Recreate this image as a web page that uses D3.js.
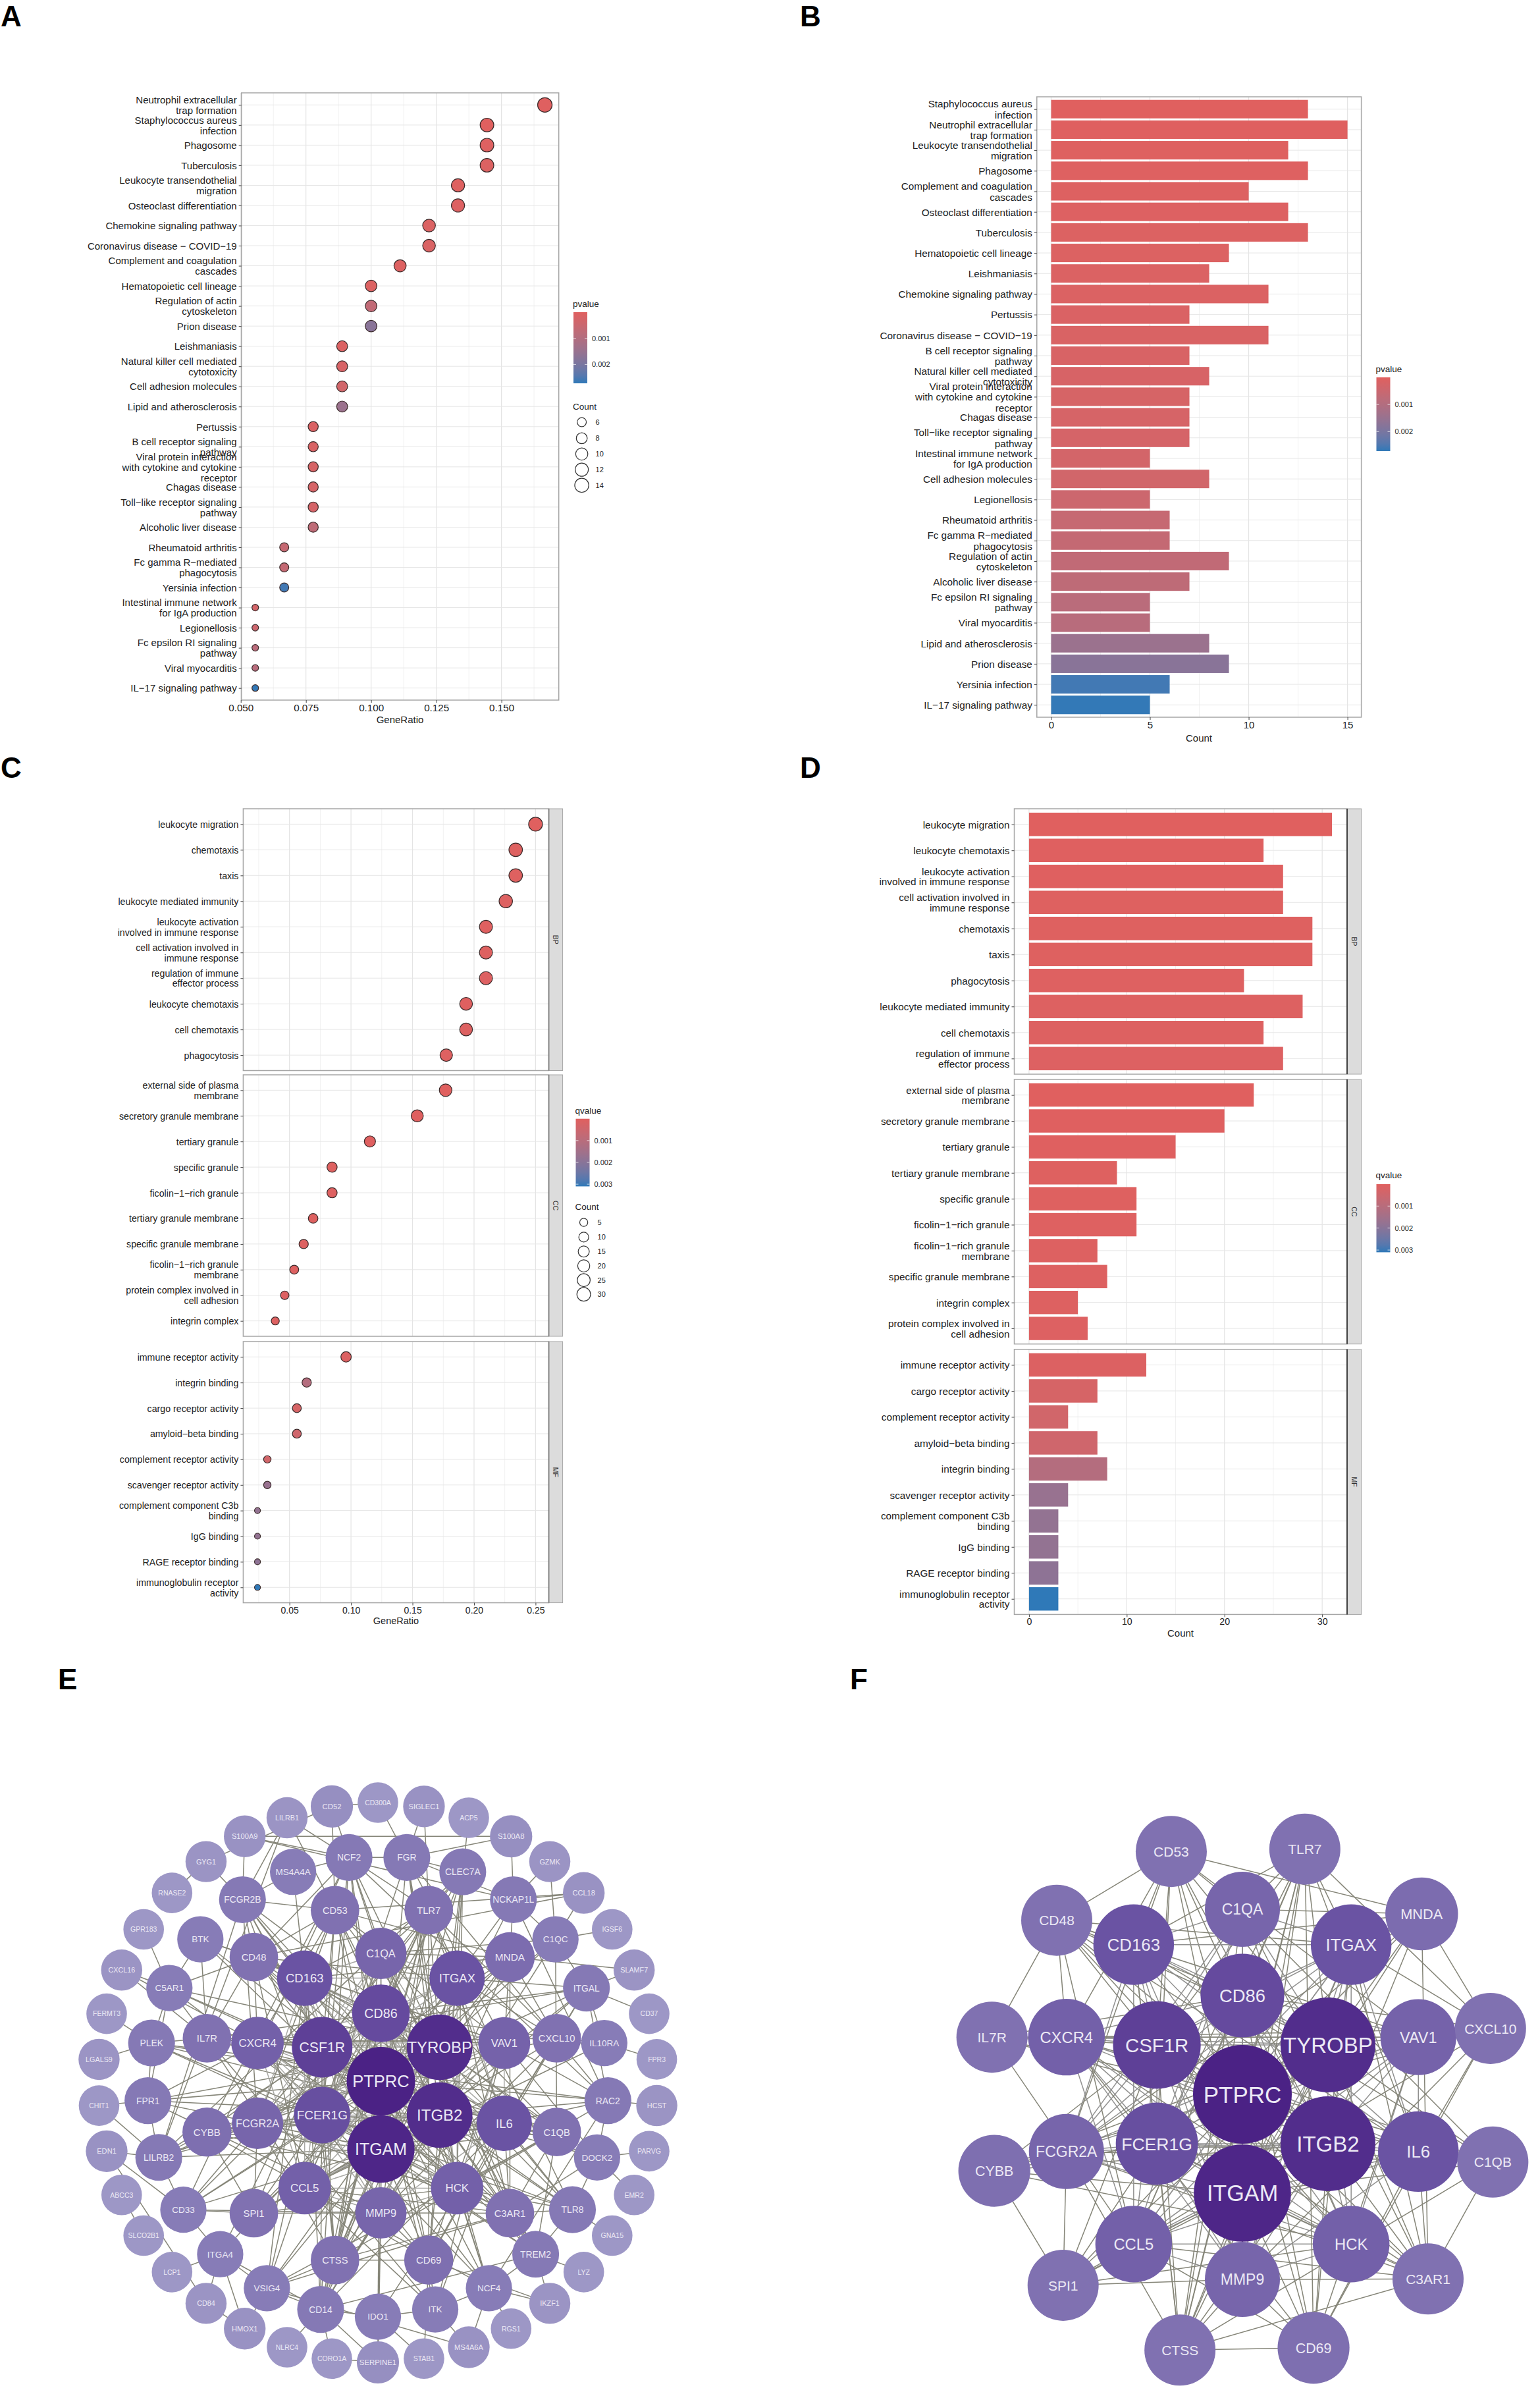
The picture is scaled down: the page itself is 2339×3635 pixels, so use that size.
<!DOCTYPE html>
<html>
<head>
<meta charset="utf-8">
<script src="https://cdn.jsdelivr.net/npm/d3@7/dist/d3.min.js"></script>
<style>
body { margin: 0; background: #fff; }
text { font-family: "Liberation Sans", Arial, sans-serif; }
</style>
</head>
<body>
<svg id="fig" width="2339" height="3635"></svg>
<script>
// KEGG terms, in the order of the bar panel (B)
const keggTerms = ["Staphylococcus aureus\ninfection", "Neutrophil extracellular\ntrap formation", "Leukocyte transendothelial\nmigration", "Phagosome", "Complement and coagulation\ncascades", "Osteoclast differentiation", "Tuberculosis", "Hematopoietic cell lineage", "Leishmaniasis", "Chemokine signaling pathway", "Pertussis", "Coronavirus disease \u2212 COVID\u221219", "B cell receptor signaling\npathway", "Natural killer cell mediated\ncytotoxicity", "Viral protein interaction\nwith cytokine and cytokine\nreceptor", "Chagas disease", "Toll\u2212like receptor signaling\npathway", "Intestinal immune network\nfor IgA production", "Cell adhesion molecules", "Legionellosis", "Rheumatoid arthritis", "Fc gamma R\u2212mediated\nphagocytosis", "Regulation of actin\ncytoskeleton", "Alcoholic liver disease", "Fc epsilon RI signaling\npathway", "Viral myocarditis", "Lipid and atherosclerosis", "Prion disease", "Yersinia infection", "IL\u221217 signaling pathway"];
const keggCount = [13, 15, 12, 13, 10, 12, 13, 9, 8, 11, 7, 11, 7, 8, 7, 7, 7, 5, 8, 5, 6, 6, 9, 7, 5, 5, 8, 9, 6, 5];
const keggP = [.00001, .00002, .00004, .00005, .00007, .00008, .00009, .0001, .00011, .00012, .00014, .00015, .00018, .0002, .00022, .00024, .00026, .0003, .00035, .00045, .00058, .00062, .0007, .00075, .00085, .00088, .00145, .00175, .0026, .0027];
// same terms, in the order of the dot panel (A)
const keggDotOrder = ["Neutrophil extracellular\ntrap formation", "Staphylococcus aureus\ninfection", "Phagosome", "Tuberculosis", "Leukocyte transendothelial\nmigration", "Osteoclast differentiation", "Chemokine signaling pathway", "Coronavirus disease \u2212 COVID\u221219", "Complement and coagulation\ncascades", "Hematopoietic cell lineage", "Regulation of actin\ncytoskeleton", "Prion disease", "Leishmaniasis", "Natural killer cell mediated\ncytotoxicity", "Cell adhesion molecules", "Lipid and atherosclerosis", "Pertussis", "B cell receptor signaling\npathway", "Viral protein interaction\nwith cytokine and cytokine\nreceptor", "Chagas disease", "Toll\u2212like receptor signaling\npathway", "Alcoholic liver disease", "Rheumatoid arthritis", "Fc gamma R\u2212mediated\nphagocytosis", "Yersinia infection", "Intestinal immune network\nfor IgA production", "Legionellosis", "Fc epsilon RI signaling\npathway", "Viral myocarditis", "IL\u221217 signaling pathway"];
const keggTotal = 90;

// GO terms, in bar panel (D) order
const goBPTerms = ["leukocyte migration", "leukocyte chemotaxis", "leukocyte activation\ninvolved in immune response", "cell activation involved in\nimmune response", "chemotaxis", "taxis", "phagocytosis", "leukocyte mediated immunity", "cell chemotaxis", "regulation of immune\neffector process"];
const goBPCount = [31, 24, 26, 26, 29, 29, 22, 28, 24, 26];
const goBPQ = [.00001, .00002, .00003, .00004, .00005, .00005, .00006, .00007, .00008, .00009];
const goBPDotOrder = ["leukocyte migration", "chemotaxis", "taxis", "leukocyte mediated immunity", "leukocyte activation\ninvolved in immune response", "cell activation involved in\nimmune response", "regulation of immune\neffector process", "leukocyte chemotaxis", "cell chemotaxis", "phagocytosis"];
const goBPTotal = 124;

const goCCTerms = ["external side of plasma\nmembrane", "secretory granule membrane", "tertiary granule", "tertiary granule membrane", "specific granule", "ficolin\u22121\u2212rich granule", "ficolin\u22121\u2212rich granule\nmembrane", "specific granule membrane", "integrin complex", "protein complex involved in\ncell adhesion"];
const goCCCount = [23, 20, 15, 9, 11, 11, 7, 8, 5, 6];
const goCCQ = [.00001, .00002, .00003, .00004, .00005, .00006, .00007, .00007, .00008, .00009];
const goCCDotOrder = ["external side of plasma\nmembrane", "secretory granule membrane", "tertiary granule", "specific granule", "ficolin\u22121\u2212rich granule", "tertiary granule membrane", "specific granule membrane", "ficolin\u22121\u2212rich granule\nmembrane", "protein complex involved in\ncell adhesion", "integrin complex"];
const goCCTotal = 130;

const goMFTerms = ["immune receptor activity", "cargo receptor activity", "complement receptor activity", "amyloid\u2212beta binding", "integrin binding", "scavenger receptor activity", "complement component C3b\nbinding", "IgG binding", "RAGE receptor binding", "immunoglobulin receptor\nactivity"];
const goMFCount = [12, 7, 4, 7, 8, 4, 3, 3, 3, 3];
const goMFQ = [.0001, .00025, .0004, .00045, .0011, .0017, .0018, .0018, .0019, .0031];
const goMFDotOrder = ["immune receptor activity", "integrin binding", "cargo receptor activity", "amyloid\u2212beta binding", "complement receptor activity", "scavenger receptor activity", "complement component C3b\nbinding", "IgG binding", "RAGE receptor binding", "immunoglobulin receptor\nactivity"];
const goMFTotal = 125;

// network genes per ring, clockwise
const ringHub = ["PTPRC"];
const ringCore = ["CD86", "TYROBP", "ITGB2", "ITGAM", "FCER1G", "CSF1R"];
const ringMid = ["C1QA", "ITGAX", "VAV1", "IL6", "HCK", "MMP9", "CCL5", "FCGR2A", "CXCR4", "CD163"];
const ringThird = ["CD53", "TLR7", "MNDA", "CXCL10", "C1QB", "C3AR1", "CD69", "CTSS", "SPI1", "CYBB", "IL7R", "CD48"];
const ringFourth = ["NCF2", "FGR", "CLEC7A", "NCKAP1L", "C1QC", "ITGAL", "IL10RA", "RAC2", "DOCK2", "TLR8", "TREM2", "NCF4", "ITK", "IDO1", "CD14", "VSIG4", "ITGA4", "CD33", "LILRB2", "FPR1", "PLEK", "C5AR1", "BTK", "FCGR2B", "MS4A4A"];
const ringOuter = ["CD300A", "SIGLEC1", "ACP5", "S100A8", "GZMK", "CCL18", "IGSF6", "SLAMF7", "CD37", "FPR3", "HCST", "PARVG", "EMR2", "GNA15", "LYZ", "IKZF1", "RGS1", "MS4A6A", "STAB1", "SERPINE1", "CORO1A", "NLRC4", "HMOX1", "CD84", "LCP1", "SLCO2B1", "ABCC3", "EDN1", "CHIT1", "LGALS9", "FERMT3", "CXCL16", "GPR183", "RNASE2", "GYG1", "S100A9", "LILRB1", "CD52"];

const degHub = [50];
const degCore = [31, 45, 45, 48, 29, 36];
const degMid = [20, 27, 21, 27, 22, 20, 22, 20, 22, 27];
const degThird = [15, 15, 17, 15, 15, 15, 16, 15, 15, 16, 15, 15];
const degFourth = [12, 12, 12, 12, 11, 12, 11, 12, 11, 12, 12, 11, 11, 11, 12, 11, 11, 11, 12, 12, 12, 11, 11, 12, 11];
const degOuter = [1, 3, 1, 4, 2, 3, 1, 2, 1, 1, 2, 1, 1, 1, 1, 2, 1, 3, 1, 4, 1, 1, 3, 2, 1, 1, 1, 3, 1, 2, 1, 2, 1, 1, 2, 3, 2, 4];

// who is linked to whom
const netLinks = [
  ["PTPRC", "CD86 TYROBP ITGB2 ITGAM FCER1G CSF1R C1QA ITGAX VAV1 IL6 HCK MMP9 CCL5 FCGR2A CXCR4 CD163 CD53 TLR7 MNDA CXCL10 C3AR1 CD69 CTSS SPI1 CYBB IL7R CD48 NCF2 FCGR2B CLEC7A NCKAP1L ITGAL RAC2 DOCK2 TLR8 CD33 LILRB2 FPR1 PLEK C5AR1 BTK ITGA4 ITK CD14 NCF4 TREM2 C1QC"],
  ["ITGAM", "TYROBP ITGB2 FCER1G CSF1R CD86 ITGAX VAV1 IL6 HCK MMP9 CCL5 FCGR2A CXCR4 CD163 C1QA MNDA C3AR1 CD69 CTSS SPI1 CYBB TLR7 CD53 C1QB NCF2 FCGR2B CLEC7A FGR ITGAL RAC2 TLR8 CD33 LILRB2 FPR1 PLEK C5AR1 VSIG4 CD14 NCF4 TREM2"],
  ["TYROBP", "ITGB2 FCER1G CSF1R CD86 C1QA ITGAX VAV1 HCK MMP9 CCL5 FCGR2A CXCR4 CD163 C1QB C3AR1 CD53 TLR7 MNDA CTSS SPI1 CYBB CD48 CLEC7A FCGR2B FGR NCF2 NCKAP1L C1QC DOCK2 TLR8 TREM2 LILRB2 FPR1 C5AR1 CD14 VSIG4 CD33"],
  ["ITGB2", "FCER1G CSF1R CD86 C1QA ITGAX VAV1 IL6 HCK MMP9 CCL5 FCGR2A CD163 CXCR4 CD69 CTSS SPI1 CYBB MNDA C3AR1 CD53 CD48 RAC2 ITGAL NCF2 FGR FCGR2B CLEC7A DOCK2 TLR8 TREM2 PLEK C5AR1 CD14 NCF4 FPR1"],
  ["CSF1R", "FCER1G CD86 C1QA ITGAX HCK MMP9 CCL5 FCGR2A CXCR4 CD163 IL6 CTSS SPI1 CYBB TLR7 C1QB C3AR1 CD48 CD53 FCGR2B CLEC7A ITGA4 CD14 VSIG4 CD33 TREM2 IL7R"],
  ["FCER1G", "CD86 C1QA ITGAX HCK VAV1 MMP9 FCGR2A CD163 IL6 CXCR4 CTSS SPI1 CYBB MNDA C1QB C3AR1 TLR7 CD53 FCGR2B CLEC7A LILRB2 NCF2 NCF4 FGR TLR8 TREM2 PLEK"],
  ["CD86", "C1QA ITGAX IL6 MMP9 CCL5 FCGR2A CXCR4 CD163 HCK VAV1 CD69 CXCL10 CD48 TLR7 CTSS IL7R TLR8 ITGAL CD14 LILRB2 IDO1 CD33"],
  ["ITGAX", "C1QA CD163 FCGR2A HCK IL6 MMP9 CCL5 MNDA CD69 C3AR1 CD48 ITGAL CXCL10 TLR7 CTSS CLEC7A"],
  ["CD163", "C1QA FCGR2A IL6 MMP9 CCL5 CD53 CD48 C1QB TLR7 CTSS VSIG4 CD14 FCGR2B MNDA MS4A4A"],
  ["IL6", "MMP9 CCL5 CXCR4 VAV1 CXCL10 IL7R TLR7 CD69 CD14 IDO1 C3AR1 ITK TLR8 CD48 ITGAL"],
  ["VAV1", "CXCR4 HCK RAC2 CCL5 CD53 CD69 CD48 ITK NCKAP1L BTK IL7R FGR DOCK2"],
  ["HCK", "FCGR2A CCL5 CXCR4 MMP9 CYBB SPI1 CD48 BTK CD53 NCF4 FGR TLR8 CLEC7A RAC2"],
  ["MMP9", "CCL5 CXCR4 CD69 C3AR1 CTSS CXCL10 FPR1 TLR7 SPI1 CD14 CD33 IDO1 C1QA SERPINE1"],
  ["CCL5", "CXCR4 CD69 CXCL10 C3AR1 C1QA TLR7 CD48 SPI1 IL7R ITK IL10RA"],
  ["CXCR4", "CXCL10 IL7R CD69 CD53 C3AR1 C1QB CD48 FPR1 ITGAL CXCL16"],
  ["FCGR2A", "C1QA C1QB SPI1 CYBB CD53 FCGR2B CTSS LILRB2 MNDA C3AR1"],
  ["C1QA", "C1QB C1QC CTSS C3AR1 CD53 TLR7 VSIG4 TREM2 MNDA"],
  ["CD53", "CD48 MNDA FCGR2B CD52 LILRB1 CCL18"],
  ["TLR7", "CD69 CTSS CXCL10 TLR8 NCF2 SIGLEC1"],
  ["MNDA", "CXCL10 C3AR1 SLAMF7"],
  ["CXCL10", "CD69 ITGAL IL10RA"],
  ["C1QB", "C3AR1 CTSS TREM2 C1QC VSIG4"],
  ["C3AR1", "CTSS DOCK2 TLR8 VSIG4"],
  ["CD69", "CTSS ITK STAB1 IKZF1"],
  ["CTSS", "CD14 VSIG4"],
  ["SPI1", "CYBB CD33"],
  ["IL7R", "CD48 ITK BTK PLEK C5AR1 CXCL16"],
  ["CD48", "FCGR2B BTK NCF2 C5AR1 CCL18"],
  ["NCF2", "CYBB NCF4 RAC2 FGR S100A9 CD52 MS4A4A LILRB1 CD14 CD33"],
  ["FGR", "CLEC7A S100A8 CD300A SIGLEC1 RAC2 NCKAP1L"],
  ["CLEC7A", "ACP5 TLR7 LILRB2"],
  ["NCKAP1L", "GZMK CCL18 S100A8 C1QC RAC2"],
  ["C1QC", "IGSF6 GZMK CCL18 ITGAL CD14"],
  ["ITGAL", "SLAMF7 CD37 IL10RA RAC2"],
  ["IL10RA", "FPR3"],
  ["RAC2", "HCST DOCK2 NCF4 PLEK"],
  ["DOCK2", "PARVG EMR2 TLR8"],
  ["TLR8", "GNA15 TREM2"],
  ["TREM2", "LYZ IKZF1 NCF4 CD14"],
  ["NCF4", "RGS1 IKZF1 MS4A6A ITK CYBB"],
  ["ITK", "MS4A6A IDO1"],
  ["IDO1", "SERPINE1 STAB1 CD14"],
  ["CD14", "NLRC4 SERPINE1 CORO1A VSIG4 ITGA4"],
  ["VSIG4", "HMOX1 ITGA4 MS4A6A"],
  ["ITGA4", "LCP1 CD84 HMOX1 CD33"],
  ["CD33", "EDN1 LILRB2"],
  ["LILRB2", "EDN1 FPR1 CYBB LILRB1 CHIT1"],
  ["FPR1", "CHIT1 PLEK C5AR1"],
  ["PLEK", "LGALS9 FERMT3 C5AR1"],
  ["C5AR1", "CXCL16 GPR183 BTK"],
  ["FCGR2B", "S100A9 GYG1 LILRB1 MS4A4A LILRB2"],
  ["S100A9", "S100A8 NCKAP1L"],
  ["CD52", "CD300A GYG1"],
  ["RNASE2", "GYG1"],
  ["ABCC3", "SLCO2B1"],
  ["EDN1", "CD84"],
  ["CD84", "HMOX1"],
  ["CORO1A", "SERPINE1"]
];

const svg = d3.select("#fig");
const red = "#e0605f", blue = "#2f79b8";
const pColor = d3.scaleLinear().domain([0, .00272]).range([red, blue]).interpolate(d3.interpolateLab);
const qColor = d3.scaleLinear().domain([0, .0031]).range([red, blue]).interpolate(d3.interpolateLab);

function panelLetter(s, x, y) {
    svg.append("text").attr("x", x).attr("y", y).attr("font-size", 44).attr("font-weight", "bold").attr("fill", "#000").text(s);
}

// y axis with the multi line labels that ggplot writes
function rowAxis(g, y, fs, lh) {
    g.call(d3.axisLeft(y).tickSize(4).tickPadding(3));
    g.select(".domain").remove();
    g.selectAll("line").attr("stroke", "#444");
    g.selectAll("text").each(function (d) {
        let lines = d.split("\n");
        let t = d3.select(this).text(null).attr("font-size", fs).attr("fill", "#222").attr("font-family", "Liberation Sans");
        lines.forEach((l, i) => {
            t.append("tspan").attr("x", -7)
                .attr("y", (i - (lines.length - 1) / 2) * lh + fs * 0.35).text(l);
        });
        t.attr("dy", null);
    });
}

function panelBack(x, y, xTicks, xMinor, box) {
    let g = svg.append("g");
    g.append("rect").attr("x", box.x0).attr("y", box.y0).attr("width", box.x1 - box.x0).attr("height", box.y1 - box.y0).attr("fill", "#fff");
    g.selectAll(".mn").data(xMinor).enter().append("line")
        .attr("x1", d => x(d)).attr("x2", d => x(d)).attr("y1", box.y0).attr("y2", box.y1)
        .attr("stroke", "#f1f1f1");
    g.selectAll(".mj").data(xTicks).enter().append("line")
        .attr("x1", d => x(d)).attr("x2", d => x(d)).attr("y1", box.y0).attr("y2", box.y1)
        .attr("stroke", "#e4e4e4").attr("stroke-width", 1.2);
    g.selectAll(".row").data(y.domain()).enter().append("line")
        .attr("x1", box.x0).attr("x2", box.x1).attr("y1", d => y(d)).attr("y2", d => y(d))
        .attr("stroke", "#e6e6e6");
}

function panelFrame(box) {
    svg.append("rect").attr("x", box.x0).attr("y", box.y0).attr("width", box.x1 - box.x0).attr("height", box.y1 - box.y0)
        .attr("fill", "none").attr("stroke", "#a6a6a6").attr("stroke-width", 1.5);
}

function stripBox(box, w, label, edge) {
    svg.append("rect").attr("x", box.x1).attr("y", box.y0).attr("width", w).attr("height", box.y1 - box.y0)
        .attr("fill", "#dcdcdc").attr("stroke", "#a6a6a6").attr("stroke-width", 1);
    svg.append("line").attr("x1", box.x1).attr("x2", box.x1).attr("y1", box.y0).attr("y2", box.y1)
        .attr("stroke", edge).attr("stroke-width", 1.6);
    let cx = box.x1 + w / 2, cy = (box.y0 + box.y1) / 2;
    svg.append("text").attr("transform", "translate(" + cx + "," + cy + ") rotate(90)")
        .attr("text-anchor", "middle").attr("dy", "0.35em").attr("font-size", 10.5).attr("fill", "#333").text(label);
}

function xAxisAt(x, ticks, fmt, yBase, fs) {
    let g = svg.append("g").attr("transform", "translate(0," + yBase + ")")
        .call(d3.axisBottom(x).tickValues(ticks).tickFormat(fmt).tickSize(4).tickPadding(2));
    g.select(".domain").remove();
    g.selectAll("line").attr("stroke", "#444");
    g.selectAll("text").attr("font-size", fs).attr("fill", "#222").attr("font-family", "Liberation Sans");
}

function axisTitle(s, x, y, fs) {
    svg.append("text").attr("x", x).attr("y", y).attr("text-anchor", "middle").attr("dy", "0.35em")
        .attr("font-size", fs).attr("fill", "#222").text(s);
}

let gradId = 0;
function colorLegend(title, color, ticks, L) {
    let id = "grad" + (gradId++);
    let dom = color.domain();
    let grad = svg.append("defs").append("linearGradient").attr("id", id).attr("x1", 0).attr("x2", 0).attr("y1", 0).attr("y2", 1);
    d3.range(0, 1.001, 0.1).forEach(t => {
        grad.append("stop").attr("offset", t).attr("stop-color", color(dom[0] + t * (dom[1] - dom[0])));
    });
    svg.append("text").attr("x", L.x).attr("y", L.titleY).attr("dy", "0.35em").attr("font-size", 13.5).attr("fill", "#222").text(title);
    svg.append("rect").attr("x", L.x + 1).attr("y", L.y0).attr("width", 21).attr("height", L.y1 - L.y0).attr("fill", "url(#" + id + ")");
    let ly = d3.scaleLinear().domain(dom).range([L.y0, L.y1]);
    ticks.forEach(v => {
        svg.append("line").attr("x1", L.x + 1).attr("x2", L.x + 5).attr("y1", ly(v)).attr("y2", ly(v)).attr("stroke", "#fff").attr("stroke-opacity", .7);
        svg.append("line").attr("x1", L.x + 18).attr("x2", L.x + 22).attr("y1", ly(v)).attr("y2", ly(v)).attr("stroke", "#fff").attr("stroke-opacity", .7);
        svg.append("text").attr("x", L.x + 29).attr("y", ly(v)).attr("dy", "0.35em").attr("font-size", 11).attr("fill", "#222").text(d3.format(".3f")(v));
    });
}

function sizeLegend(counts, r, L) {
    svg.append("text").attr("x", L.x).attr("y", L.titleY).attr("dy", "0.35em").attr("font-size", 13.5).attr("fill", "#222").text("Count");
    let cy = L.y0;
    counts.forEach((c, i) => {
        if (i > 0) cy += L.gap + (r(c) - r(counts[i - 1]));
        svg.append("circle").attr("cx", L.cx).attr("cy", cy).attr("r", r(c)).attr("fill", "#fff").attr("stroke", "#333").attr("stroke-width", 1.2);
        svg.append("text").attr("x", L.cx + 21).attr("y", cy).attr("dy", "0.35em").attr("font-size", 11).attr("fill", "#222").text(c);
    });
}

function areaSize(dom, rng) {
    let t = d3.scaleLinear().domain(dom).range([0, 1]);
    let r = d3.scaleLinear().domain([0, 1]).range(rng);
    return c => r(Math.sqrt(t(c)));
}

// panel A
function drawKeggDots() {
    panelLetter("A", 1, 40);
    let box = { x0: 366.7, x1: 848.7, y0: 141, y1: 1063 };
    let x = d3.scaleLinear().domain([0.05025, 0.172]).range([box.x0, box.x1]);
    let y = d3.scalePoint().domain(keggDotOrder).range([box.y0, box.y1]).padding(0.6);
    let r = areaSize([5, 15], [5, 11]);
    panelBack(x, y, [.05, .075, .1, .125, .15], [.0625, .0875, .1125, .1375, .1625], box);
    svg.selectAll(".dotA").data(keggDotOrder).enter().append("circle")
        .attr("cx", d => x(keggCount[keggTerms.indexOf(d)] / keggTotal))
        .attr("cy", d => y(d))
        .attr("r", d => r(keggCount[keggTerms.indexOf(d)]))
        .attr("fill", d => pColor(keggP[keggTerms.indexOf(d)]))
        .attr("stroke", "#3a2a2a").attr("stroke-width", 1.2);
    panelFrame(box);
    rowAxis(svg.append("g").attr("transform", "translate(" + box.x0 + ",0)"), y, 15, 16);
    xAxisAt(x, [.05, .075, .1, .125, .15], d3.format(".3f"), box.y1, 15.2);
    axisTitle("GeneRatio", 607.5, 1092.5, 15);
    colorLegend("pvalue", pColor, [.001, .002], { x: 870, titleY: 461, y0: 474, y1: 582 });
    sizeLegend([6, 8, 10, 12, 14], r, { x: 870, titleY: 617, y0: 641, cx: 883.6, gap: 23 });
}

// panel B
function drawKeggBars() {
    panelLetter("B", 1215, 40);
    let box = { x0: 1574.8, x1: 2067.6, y0: 147, y1: 1089 };
    let x = d3.scaleLinear().domain([-0.723, 15.7]).range([box.x0, box.x1]);
    let y = d3.scalePoint().domain(keggTerms).range([box.y0, box.y1]).padding(0.6);
    panelBack(x, y, [0, 5, 10, 15], [2.5, 7.5, 12.5], box);
    svg.selectAll(".barB").data(keggTerms).enter().append("rect")
        .attr("x", x(0))
        .attr("y", d => y(d) - y.step() * 0.45)
        .attr("width", (d, i) => x(keggCount[i]) - x(0))
        .attr("height", y.step() * 0.9)
        .attr("fill", (d, i) => pColor(keggP[i]));
    panelFrame(box);
    rowAxis(svg.append("g").attr("transform", "translate(" + box.x0 + ",0)"), y, 15.3, 16.5);
    xAxisAt(x, [0, 5, 10, 15], d3.format("d"), box.y1, 15);
    axisTitle("Count", 1821, 1120.7, 15);
    colorLegend("pvalue", pColor, [.001, .002], { x: 2089.5, titleY: 560, y0: 573, y1: 685 });
}

// panel C
function drawGoDots() {
    panelLetter("C", 1, 1181);
    let facets = [
        { label: "BP", order: goBPDotOrder, terms: goBPTerms, count: goBPCount, q: goBPQ, total: goBPTotal, y0: 1228, y1: 1625.5 },
        { label: "CC", order: goCCDotOrder, terms: goCCTerms, count: goCCCount, q: goCCQ, total: goCCTotal, y0: 1632, y1: 2029 },
        { label: "MF", order: goMFDotOrder, terms: goMFTerms, count: goMFCount, q: goMFQ, total: goMFTotal, y0: 2037, y1: 2433.6 }
    ];
    let x = d3.scaleLinear().domain([0.0124, 0.2608]).range([369.4, 833.6]);
    let r = areaSize([3, 31], [4.5, 10.5]);
    let ticks = [.05, .1, .15, .2, .25];
    facets.forEach(f => {
        let box = { x0: 369.4, x1: 833.6, y0: f.y0, y1: f.y1 };
        let y = d3.scalePoint().domain(f.order).range([box.y0, box.y1]).padding(0.6);
        panelBack(x, y, ticks, [.025, .075, .125, .175, .225], box);
        svg.selectAll(".dotC" + f.label).data(f.order).enter().append("circle")
            .attr("cx", d => x(f.count[f.terms.indexOf(d)] / f.total))
            .attr("cy", d => y(d))
            .attr("r", d => r(f.count[f.terms.indexOf(d)]))
            .attr("fill", d => qColor(f.q[f.terms.indexOf(d)]))
            .attr("stroke", "#3a2a2a").attr("stroke-width", 1.2);
        panelFrame(box);
        stripBox(box, 21, f.label, "#777");
        rowAxis(svg.append("g").attr("transform", "translate(" + box.x0 + ",0)"), y, 14.2, 15.6);
    });
    xAxisAt(x, ticks, d3.format(".2f"), 2433.6, 14);
    axisTitle("GeneRatio", 601.5, 2461, 14.5);
    colorLegend("qvalue", qColor, [.001, .002, .003], { x: 873.5, titleY: 1686, y0: 1698.7, y1: 1801.4 });
    sizeLegend([5, 10, 15, 20, 25, 30], r, { x: 873.5, titleY: 1832.7, y0: 1856, cx: 886.6, gap: 21 });
}

// panel D
function drawGoBars() {
    panelLetter("D", 1215, 1181);
    let facets = [
        { label: "BP", terms: goBPTerms, count: goBPCount, q: goBPQ, y0: 1228, y1: 1631 },
        { label: "CC", terms: goCCTerms, count: goCCCount, q: goCCQ, y0: 1639, y1: 2040.7 },
        { label: "MF", terms: goMFTerms, count: goMFCount, q: goMFQ, y0: 2048.8, y1: 2451.4 }
    ];
    let x = d3.scaleLinear().domain([-1.51, 32.55]).range([1540.5, 2046]);
    let ticks = [0, 10, 20, 30];
    facets.forEach(f => {
        let box = { x0: 1540.5, x1: 2046, y0: f.y0, y1: f.y1 };
        let y = d3.scalePoint().domain(f.terms).range([box.y0, box.y1]).padding(0.6);
        panelBack(x, y, ticks, [5, 15, 25], box);
        svg.selectAll(".barD" + f.label).data(f.terms).enter().append("rect")
            .attr("x", x(0))
            .attr("y", d => y(d) - y.step() * 0.45)
            .attr("width", (d, i) => x(f.count[i]) - x(0))
            .attr("height", y.step() * 0.9)
            .attr("fill", (d, i) => qColor(f.q[i]));
        panelFrame(box);
        stripBox(box, 21.6, f.label, "#222");
        rowAxis(svg.append("g").attr("transform", "translate(" + box.x0 + ",0)"), y, 15.3, 15.6);
    });
    xAxisAt(x, ticks, d3.format("d"), 2451.4, 14.2);
    axisTitle("Count", 1793, 2480, 15);
    colorLegend("qvalue", qColor, [.001, .002, .003], { x: 2089.5, titleY: 1784.5, y0: 1797.9, y1: 1901.4 });
}

// network panels E and F
const nodeColor = d3.scaleLinear().domain([1, 12, 27, 50]).range(["#9d97c6", "#8579b5", "#6a53a3", "#4b2285"]);

function drawNetwork(rings, R, F) {
    let nodes = [];
    rings.forEach(ring => {
        let step = 360 / ring.genes.length;
        ring.genes.forEach((g, i) => {
            let p = d3.pointRadial((ring.start + i * step) * Math.PI / 180, ring.radius);
            nodes.push({ gene: g, deg: ring.deg[i], x: ring.cx + p[0], y: ring.cy + p[1] });
        });
    });
    let byGene = new Map(nodes.map(n => [n.gene, n]));
    let edges = [];
    netLinks.forEach(row => {
        row[1].split(" ").forEach(t => {
            if (byGene.has(row[0]) && byGene.has(t)) edges.push([byGene.get(row[0]), byGene.get(t)]);
        });
    });
    let g = svg.append("g");
    // the bundles between the big nodes look lighter than the lines further out
    g.selectAll("line").data(edges).enter().append("line")
        .attr("x1", d => d[0].x).attr("y1", d => d[0].y)
        .attr("x2", d => d[1].x).attr("y2", d => d[1].y)
        .attr("stroke", d => (d[0].deg >= 20 && d[1].deg >= 20) ? F.core : F.edge)
        .attr("stroke-width", 1.5);
    let r = d3.scaleLinear().domain(R).range(F.r);
    let fs = d3.scaleLinear().domain(R).range(F.font);
    let n = g.selectAll("g.node").data(nodes.slice().reverse()).enter().append("g").attr("class", "node")
        .attr("transform", d => "translate(" + d.x + "," + d.y + ")");
    n.append("circle").attr("r", d => r(d.deg)).attr("fill", d => nodeColor(d.deg));
    n.append("text").attr("text-anchor", "middle").attr("dy", "0.36em")
        .attr("font-size", d => fs(d.deg)).attr("fill", "#ece9f5").text(d => d.gene);
}

drawKeggDots();
drawKeggBars();
drawGoDots();
drawGoBars();

panelLetter("E", 88, 2565);
drawNetwork([
    { genes: ringOuter, deg: degOuter, start: 0, radius: 425, cx: 574, cy: 3162 },
    { genes: ringFourth, deg: degFourth, start: -7.2, radius: 350, cx: 574, cy: 3167.6 },
    { genes: ringThird, deg: degThird, start: -15, radius: 275, cx: 580, cy: 3166 },
    { genes: ringMid, deg: degMid, start: 0, radius: 197, cx: 578.5, cy: 3163 },
    { genes: ringCore, deg: degCore, start: 0, radius: 103, cx: 578.5, cy: 3160 },
    { genes: ringHub, deg: degHub, start: 0, radius: 0, cx: 578.5, cy: 3160 }
], [1, 50], { r: [30.8, 52], font: [10.5, 25.5], edge: "#858578", core: "#a9a9a5" });

panelLetter("F", 1291, 2565);
drawNetwork([
    { genes: ringThird, deg: degThird, start: -16, radius: 392, cx: 1887, cy: 3188 },
    { genes: ringMid, deg: degMid, start: 0, radius: 281, cx: 1887, cy: 3180 },
    { genes: ringCore, deg: degCore, start: 0, radius: 150, cx: 1887, cy: 3180 },
    { genes: ringHub, deg: degHub, start: 0, radius: 0, cx: 1887, cy: 3180 }
], [15, 50], { r: [54, 75], font: [21, 35], edge: "#858578", core: "#919190" });
</script>
</body>
</html>
